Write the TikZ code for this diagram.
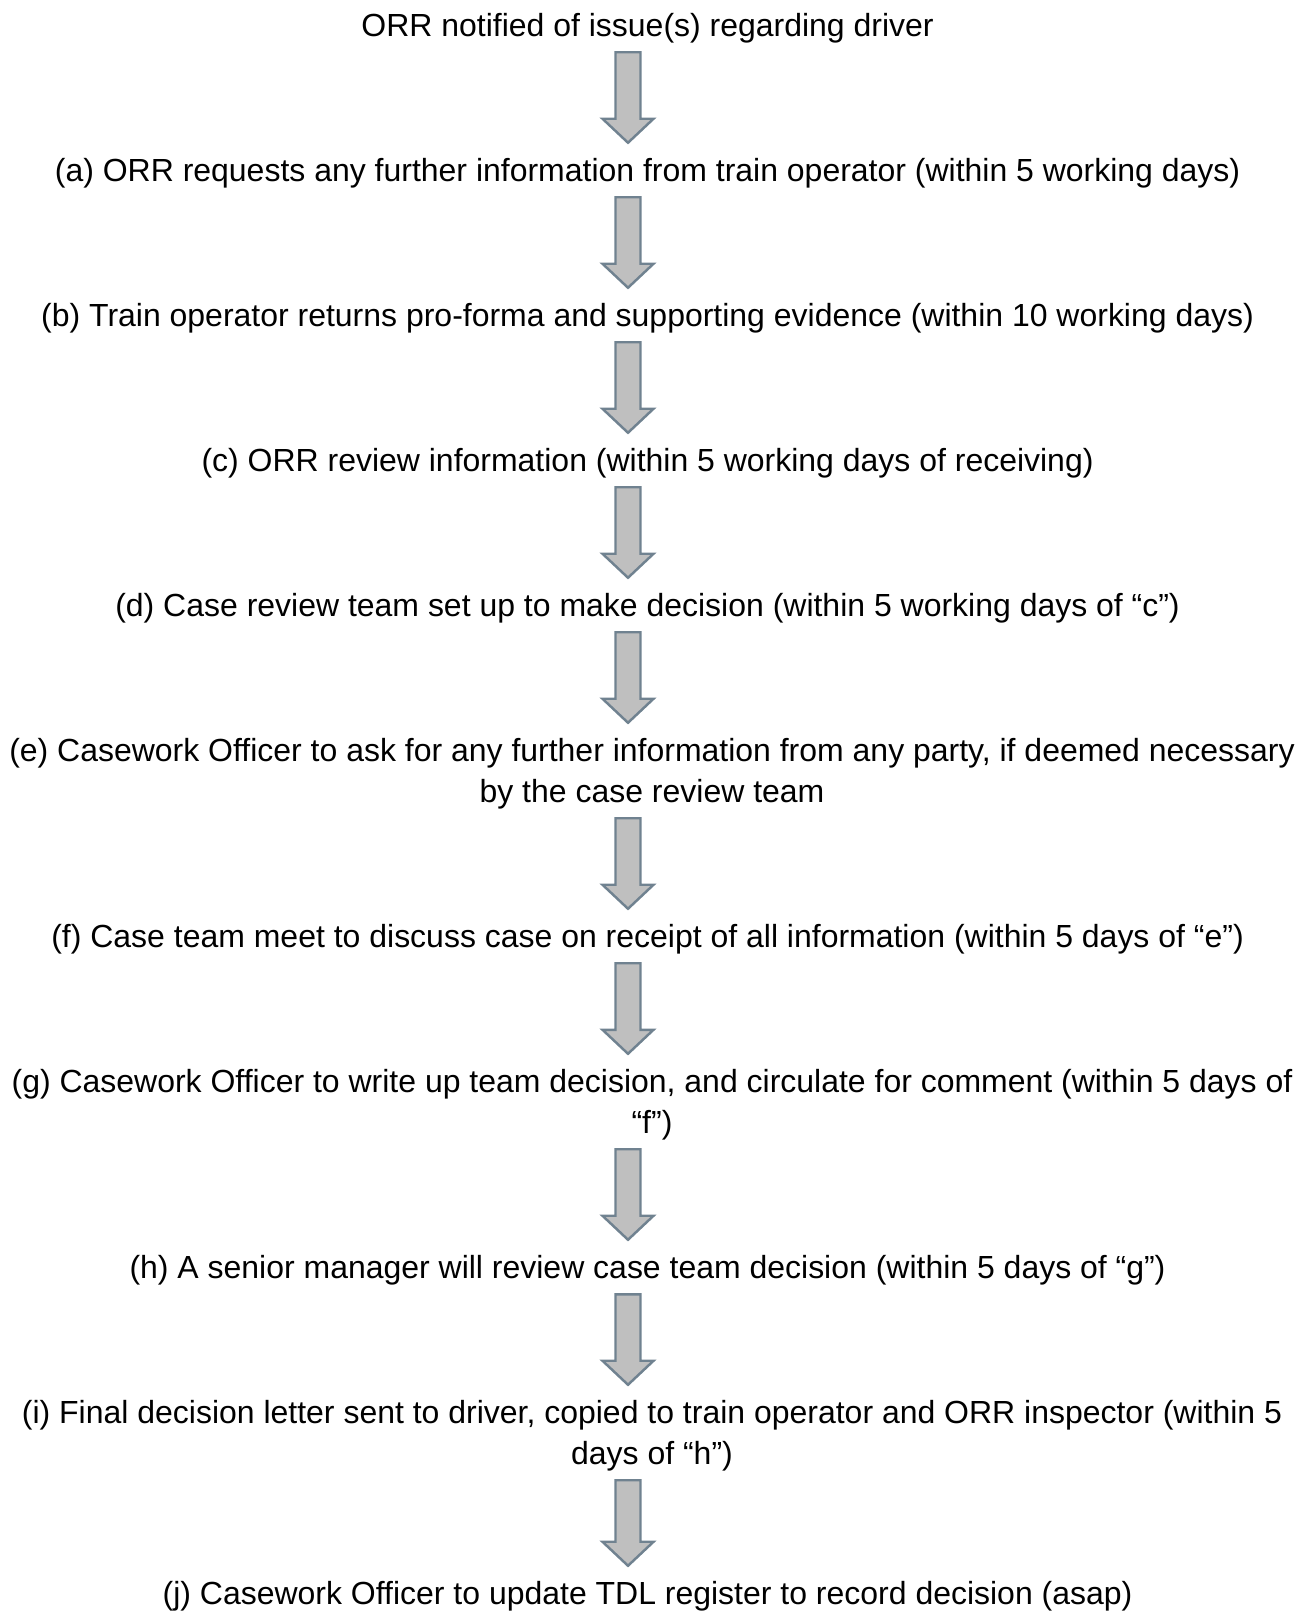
\documentclass[tikz,border=0pt]{standalone}
\usepackage{fontspec}
\setmainfont{Liberation Sans}
\usetikzlibrary{calc}

\definecolor{arrowfill}{RGB}{191,191,191}
\definecolor{arrowedge}{RGB}{112,130,144}

\begin{document}
\begin{tikzpicture}[
    x=0.02cm, y=-0.02cm,
    steptext/.style={
        inner sep=0pt,
        align=center,
        font=\fontsize{18.2pt}{23.33pt}\selectfont
    },
    flowarrow/.style={
        draw=arrowedge,
        fill=arrowfill,
        line width=1.4pt,
        to path={
            ($(\tikztostart)+(-36.5,9)$) -- ($(\tikztostart)+(-11.5,9)$)
            -- ($(\tikztotarget)+(-11.5,-39)$) -- ($(\tikztotarget)+(1.5,-39)$)
            -- ($(\tikztotarget)+(-24,-15)$) -- ($(\tikztotarget)+(-49.5,-39)$)
            -- ($(\tikztotarget)+(-36.5,-39)$) -- cycle
        }
    }
]
    \useasboundingbox (0,0) rectangle (1312,1612);

    \node[steptext] (notified) at (652,28) {
        ORR notified of issue(s) regarding driver
    };
    \node[steptext] (request) at (652,173) {
        (a) ORR requests any further information from train operator (within 5 working days)
    };
    \node[steptext] (returns) at (652,318) {
        (b) Train operator returns pro-forma and supporting evidence (within 10 working days)
    };
    \node[steptext] (review) at (652,463) {
        (c) ORR review information (within 5 working days of receiving)
    };
    \node[steptext] (caseteam) at (652,608) {
        (d) Case review team set up to make decision (within 5 working days of “c”)
    };
    \node[steptext] (furtherinfo) at (652,773.5) {
        (e) Casework Officer to ask for any further information from any party, if deemed necessary\\
        by the case review team
    };
    \node[steptext] (meet) at (652,939) {
        (f) Case team meet to discuss case on receipt of all information (within 5 days of “e”)
    };
    \node[steptext] (writeup) at (652,1104.5) {
        (g) Casework Officer to write up team decision, and circulate for comment (within 5 days of\\
        “f”)
    };
    \node[steptext] (senior) at (652,1270) {
        (h) A senior manager will review case team decision (within 5 days of “g”)
    };
    \node[steptext] (letter) at (652,1435.5) {
        (i) Final decision letter sent to driver, copied to train operator and ORR inspector (within 5\\
        days of “h”)
    };
    \node[steptext] (register) at (652,1596) {
        (j) Casework Officer to update TDL register to record decision (asap)
    };

    % block arrows between the steps
    \foreach \src/\dst in {notified/request, request/returns, returns/review,
        review/caseteam, caseteam/furtherinfo, furtherinfo/meet, meet/writeup,
        writeup/senior, senior/letter, letter/register}
        \draw[flowarrow] (\src.south) to (\dst.north);
\end{tikzpicture}
\end{document}
